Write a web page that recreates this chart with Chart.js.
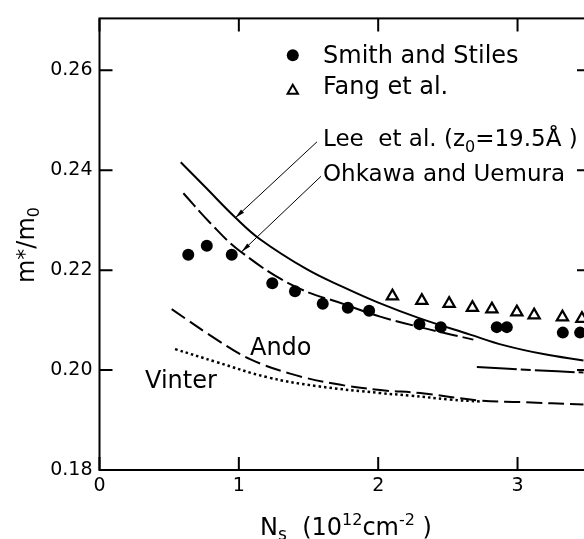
<!DOCTYPE html>
<html>
<head>
<meta charset="utf-8">
<script src="https://cdn.jsdelivr.net/npm/chart.js@4.4.1/dist/chart.umd.min.js"></script>
<style>
  html, body { margin: 0; padding: 0; background: #fff; overflow: hidden; }
  #wrap { width: 600px; height: 539px; }
</style>
</head>
<body>
<div id="wrap"><canvas id="chart" width="600" height="539"></canvas></div>
<script>
// --- data (Ns in 1e12 cm^-2, m*/m0) ---
const smithX = [0.637, 0.770, 0.949, 1.240, 1.403, 1.602, 1.782, 1.935, 2.296, 2.449, 2.851, 2.923, 3.325, 3.449];
const smithY = [0.2231, 0.2249, 0.2231, 0.2174, 0.2158, 0.2133, 0.2125, 0.2119, 0.2092, 0.2086, 0.2086, 0.2086, 0.2075, 0.2075];

const fangX = [2.102, 2.313, 2.509, 2.676, 2.816, 2.995, 3.119, 3.322, 3.462];
const fangY = [0.2148, 0.2139, 0.2133, 0.2125, 0.2122, 0.2116, 0.2110, 0.2106, 0.2103];

const leeX = [0.583, 0.757, 0.973, 1.152, 1.487, 1.750, 2.001, 2.294, 2.660, 2.899, 3.186, 3.473];
const leeY = [0.2416, 0.2367, 0.2306, 0.2262, 0.2202, 0.2166, 0.2135, 0.2104, 0.2071, 0.2050, 0.2032, 0.2019];

const ohkawaX = [0.602, 0.793, 1.009, 1.391, 1.775, 2.014, 2.373, 2.683];
const ohkawaY = [0.2354, 0.2295, 0.2238, 0.2169, 0.2130, 0.2107, 0.2081, 0.2061];

const andoX = [0.518, 0.841, 1.080, 1.368, 1.678, 2.014, 2.301, 2.731, 3.018, 3.473];
const andoY = [0.2122, 0.2061, 0.2022, 0.1993, 0.1973, 0.1960, 0.1954, 0.1939, 0.1936, 0.1931];

const vinterX = [0.542, 0.841, 1.200, 1.559, 2.014, 2.229, 2.516, 2.731];
const vinterY = [0.2042, 0.2016, 0.1986, 0.1968, 0.1954, 0.1949, 0.1941, 0.1937];

const extraX = [2.708, 3.100, 3.473];
const extraY = [0.2006, 0.2000, 0.1995];

const xTicks = [0, 1, 2, 3];
const yTicks = [0.18, 0.20, 0.22, 0.24, 0.26];

const FONT = '"DejaVu Sans", sans-serif';

const pts = (xs, ys) => xs.map((x, i) => ({ x: x, y: ys[i] }));

function lineSet(xs, ys, dash, width) {
    return {
        data: pts(xs, ys),
        showLine: true,
        borderColor: '#000',
        borderWidth: width || 2,
        borderDash: dash,
        pointRadius: 0,
        tension: 0.4
    };
}

// draw a run of text pieces (for sub/superscripts)
function rich(ctx, x, y, parts, align) {
    let w = 0;
    parts.forEach(p => { ctx.font = p.s + 'px ' + FONT; w += ctx.measureText(p.t).width; });
    let cx = align === 'center' ? x - w / 2 : x;
    parts.forEach(p => {
        ctx.font = p.s + 'px ' + FONT;
        ctx.fillText(p.t, cx, y + (p.dy || 0));
        cx += ctx.measureText(p.t).width;
    });
}

function arrow(ctx, x0, y0, x1, y1) {
    ctx.beginPath();
    ctx.moveTo(x0, y0);
    ctx.lineTo(x1, y1);
    ctx.stroke();
    const a = Math.atan2(y1 - y0, x1 - x0);
    ctx.beginPath();
    ctx.moveTo(x1, y1);
    ctx.lineTo(x1 - 10 * Math.cos(a - 0.22), y1 - 10 * Math.sin(a - 0.22));
    ctx.lineTo(x1 - 10 * Math.cos(a + 0.22), y1 - 10 * Math.sin(a + 0.22));
    ctx.closePath();
    ctx.fill();
}

const decor = {
    id: 'decor',
    afterDraw(chart) {
        const ctx = chart.ctx;
        const { left, right, top, bottom } = chart.chartArea;
        const sx = chart.scales.x, sy = chart.scales.y;
        const X = v => sx.getPixelForValue(v), Y = v => sy.getPixelForValue(v);
        ctx.save();
        ctx.strokeStyle = '#000';
        ctx.fillStyle = '#000';

        // frame and inward ticks
        ctx.lineWidth = 2;
        ctx.strokeRect(left, top, right - left, bottom - top);
        ctx.beginPath();
        xTicks.forEach(v => {
            ctx.moveTo(X(v), bottom); ctx.lineTo(X(v), bottom - 13);
            ctx.moveTo(X(v), top); ctx.lineTo(X(v), top + 13);
        });
        yTicks.forEach(v => {
            ctx.moveTo(left, Y(v)); ctx.lineTo(left + 13, Y(v));
            ctx.moveTo(right, Y(v)); ctx.lineTo(right - 13, Y(v));
        });
        ctx.stroke();

        // legend symbols
        ctx.beginPath();
        ctx.arc(X(1.387), Y(0.2630), 6, 0, Math.PI * 2);
        ctx.fill();
        const tx = X(1.387), ty = Y(0.2559), r = 6;
        ctx.beginPath();
        ctx.moveTo(tx, ty - r);
        ctx.lineTo(tx + r * 0.866, ty + r / 2);
        ctx.lineTo(tx - r * 0.866, ty + r / 2);
        ctx.closePath();
        ctx.stroke();

        // text labels
        ctx.textBaseline = 'alphabetic';
        ctx.textAlign = 'left';
        rich(ctx, X(1.604), Y(0.2614), [{ t: 'Smith and Stiles', s: 24 }]);
        rich(ctx, X(1.604), Y(0.2553), [{ t: 'Fang et al.', s: 24 }]);
        rich(ctx, X(1.604), Y(0.2449), [
            { t: 'Lee  et al. (z', s: 23 }, { t: '0', s: 16, dy: 6 }, { t: '=19.5Å )', s: 23 }
        ]);
        rich(ctx, X(1.604), Y(0.2378), [{ t: 'Ohkawa and Uemura', s: 23 }]);
        rich(ctx, X(1.080), Y(0.2031), [{ t: 'Ando', s: 24 }]);
        rich(ctx, X(0.327), Y(0.1965), [{ t: 'Vinter', s: 24 }]);

        // leader arrows
        ctx.lineWidth = 1;
        arrow(ctx, X(1.561), Y(0.2457), X(0.975), Y(0.2305));
        arrow(ctx, X(1.590), Y(0.2388), X(1.02), Y(0.2237));

        // axis titles
        rich(ctx, 346, 535, [
            { t: 'N', s: 24 }, { t: 's', s: 17, dy: 5 }, { t: '  (', s: 24 }, { t: '10', s: 24 },
            { t: '12', s: 16, dy: -10 }, { t: 'cm', s: 24 }, { t: '-2', s: 16, dy: -10 }, { t: ' )', s: 24 }
        ], 'center');
        ctx.translate(34, 245);
        ctx.rotate(-Math.PI / 2);
        rich(ctx, 0, 0, [
            { t: 'm', s: 24 }, { t: '*', s: 22, dy: -2 }, { t: '/', s: 24 }, { t: 'm', s: 24 }, { t: '0', s: 16, dy: 5 }
        ], 'center');
        ctx.restore();
    }
};

new Chart(document.getElementById('chart'), {
    type: 'scatter',
    data: {
        datasets: [
            { data: pts(smithX, smithY), pointRadius: 6, pointBackgroundColor: '#000', pointBorderWidth: 0 },
            { data: pts(fangX, fangY), pointStyle: 'triangle', pointRadius: 6.5, pointBackgroundColor: '#fff', pointBorderColor: '#000', pointBorderWidth: 2.2 },
            lineSet(leeX, leeY, []),
            lineSet(ohkawaX, ohkawaY, [18, 5]),
            lineSet(andoX, andoY, [16, 6]),
            lineSet(vinterX, vinterY, [2.5, 3], 2.5),
            lineSet(extraX, extraY, [40, 4, 10, 4])
        ]
    },
    options: {
        responsive: false,
        animation: false,
        devicePixelRatio: 1,
        layout: { padding: { top: 9, right: 10, left: 0, bottom: 0 } },
        plugins: { legend: { display: false }, tooltip: { enabled: false } },
        scales: {
            x: {
                type: 'linear', min: 0, max: 3.52,
                grid: { display: false, drawTicks: false },
                border: { display: false },
                ticks: { stepSize: 1, includeBounds: false, color: '#000', padding: 5, maxRotation: 0,
                         font: { family: FONT, size: 19 }, callback: v => String(v) },
                afterFit: s => { s.height = 69; }
            },
            y: {
                type: 'linear', min: 0.18, max: 0.2704,
                grid: { display: false, drawTicks: false },
                border: { display: false },
                ticks: { stepSize: 0.02, includeBounds: false, color: '#000', padding: 7,
                         font: { family: FONT, size: 19 }, callback: v => v.toFixed(2) },
                afterFit: s => { s.width = 99.5; }
            }
        }
    },
    plugins: [decor]
});
</script>
</body>
</html>
